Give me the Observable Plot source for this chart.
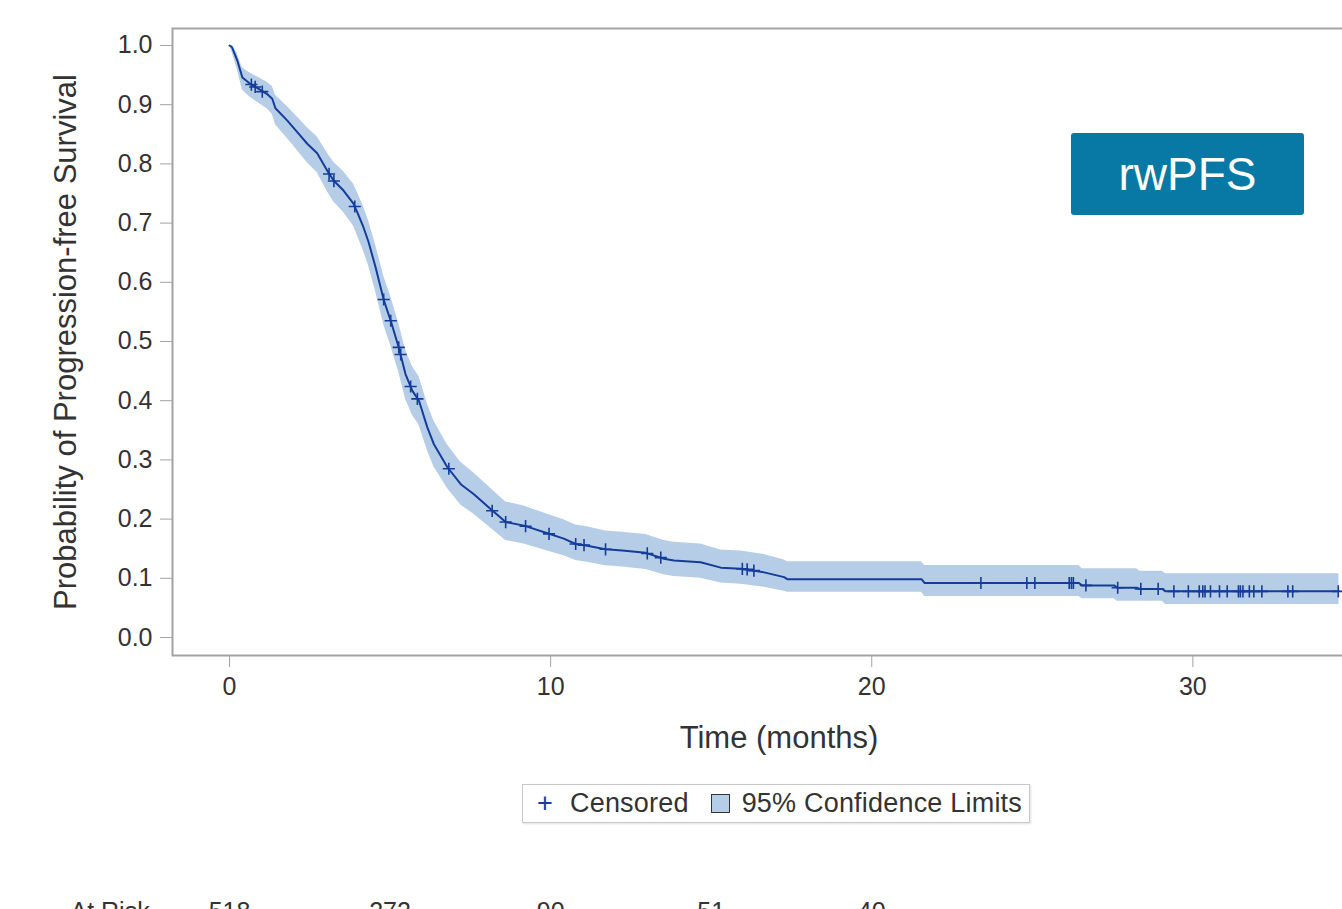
<!DOCTYPE html>
<html>
<head>
<meta charset="utf-8">
<script src="https://cdn.jsdelivr.net/npm/d3@7"></script>
<script src="https://cdn.jsdelivr.net/npm/@observablehq/plot@0.6"></script>
<style>
  html, body { margin: 0; padding: 0; overflow: hidden; background: #fff; }
  #wrap { position: relative; width: 1342px; height: 909px; overflow: hidden; font-family: "Liberation Sans", Arial, sans-serif; }
  #chart svg { max-width: none !important; }
  #legend { position: absolute; left: 522px; top: 784px; width: 506px; height: 37px; border: 1px solid #c9c9c9; box-shadow: 1px 1px 2px rgba(0,0,0,0.12); display: flex; align-items: center; font-size: 27px; color: #333; letter-spacing: 0.2px; }
  #legend .plus { color: #143c99; margin-left: 14px; margin-right: 17px; font-size: 27px; }
  #legend .sq { display: inline-block; width: 17px; height: 17px; background: #b6cde8; border: 1.5px solid #333; margin-left: 22px; margin-right: 12px; }
  #badge { position: absolute; left: 1071px; top: 133px; width: 233px; height: 82px; background: #0878a4; border-radius: 3px; color: #fff; font-size: 46px; display: flex; align-items: center; justify-content: center; }
</style>
</head>
<body>
<div id="wrap">
  <div id="chart"></div>
  <div id="legend"><span class="plus">+</span><span>Censored</span><span class="sq"></span><span>95% Confidence Limits</span></div>
  <div id="badge">rwPFS</div>
</div>
<script>
// Kaplan–Meier estimate (time in months, survival, 95% CI)
const times = [0, 0.08, 0.24, 0.40, 0.65, 0.90, 1.17, 1.33, 1.43, 1.80, 2.15, 2.42, 2.73, 3.04, 3.24, 3.55, 3.86, 3.98, 4.17, 4.33, 4.55, 4.81, 5.02, 5.27, 5.48, 5.69, 5.90, 6.16, 6.36, 6.78, 7.20, 7.61, 8.13, 8.60, 9.17, 9.90, 10.41, 10.78, 11.14, 11.71, 12.23, 12.96, 13.53, 13.84, 14.67, 15.30, 15.92, 16.65, 17.27, 17.37, 21.55, 21.65, 26.45, 26.55, 27.55, 27.65, 28.25, 28.35, 29.05, 29.15, 34.55];
const surv  = [1.000, 0.997, 0.975, 0.946, 0.935, 0.927, 0.918, 0.910, 0.894, 0.873, 0.851, 0.834, 0.818, 0.789, 0.772, 0.755, 0.733, 0.718, 0.693, 0.668, 0.625, 0.569, 0.535, 0.490, 0.445, 0.417, 0.400, 0.355, 0.327, 0.288, 0.259, 0.242, 0.217, 0.195, 0.189, 0.176, 0.167, 0.158, 0.155, 0.149, 0.147, 0.143, 0.133, 0.130, 0.127, 0.118, 0.116, 0.110, 0.102, 0.0985, 0.0985, 0.092, 0.092, 0.088, 0.088, 0.084, 0.084, 0.082, 0.082, 0.078, 0.078];
const lower = [1.000, 0.988, 0.960, 0.925, 0.912, 0.903, 0.893, 0.884, 0.866, 0.843, 0.820, 0.802, 0.785, 0.754, 0.736, 0.718, 0.695, 0.679, 0.653, 0.628, 0.584, 0.527, 0.493, 0.448, 0.403, 0.376, 0.359, 0.316, 0.289, 0.252, 0.224, 0.208, 0.185, 0.164, 0.158, 0.146, 0.138, 0.130, 0.127, 0.121, 0.119, 0.115, 0.106, 0.103, 0.100, 0.092, 0.090, 0.085, 0.078, 0.0765, 0.0765, 0.0693, 0.0693, 0.0653, 0.0653, 0.0613, 0.0613, 0.0613, 0.0613, 0.0557, 0.0557];
const upper = [1.000, 1.000, 0.986, 0.962, 0.953, 0.946, 0.938, 0.931, 0.916, 0.897, 0.877, 0.861, 0.846, 0.819, 0.803, 0.787, 0.766, 0.752, 0.728, 0.704, 0.663, 0.609, 0.576, 0.531, 0.486, 0.458, 0.441, 0.395, 0.366, 0.326, 0.296, 0.278, 0.252, 0.229, 0.222, 0.208, 0.199, 0.190, 0.187, 0.180, 0.178, 0.174, 0.164, 0.161, 0.158, 0.148, 0.146, 0.140, 0.131, 0.128, 0.128, 0.1216, 0.1216, 0.116, 0.116, 0.116, 0.116, 0.112, 0.112, 0.1075, 0.1075];

// Censored observations
const censTimes = [0.68, 0.80, 1.02, 3.10, 3.25, 3.90, 4.80, 5.02, 5.27, 5.33, 5.64, 5.85, 6.83, 8.18, 8.60, 9.22, 9.95, 10.78, 11.04, 11.71, 13.01, 13.43, 15.97, 16.12, 16.33, 23.40, 24.83, 25.08, 26.15, 26.22, 26.28, 26.67, 27.66, 28.38, 28.92, 29.41, 29.86, 30.20, 30.31, 30.38, 30.55, 30.83, 31.07, 31.42, 31.48, 31.56, 31.76, 31.90, 32.15, 32.96, 33.11, 34.53];
const censSurv  = [0.934, 0.930, 0.922, 0.783, 0.771, 0.728, 0.571, 0.535, 0.490, 0.478, 0.424, 0.403, 0.285, 0.214, 0.195, 0.188, 0.175, 0.158, 0.156, 0.149, 0.142, 0.135, 0.116, 0.115, 0.113, 0.092, 0.092, 0.092, 0.092, 0.092, 0.092, 0.088, 0.084, 0.082, 0.082, 0.078, 0.078, 0.078, 0.078, 0.078, 0.078, 0.078, 0.078, 0.078, 0.078, 0.078, 0.078, 0.078, 0.078, 0.078, 0.078, 0.078];

// Axis ticks
const xTicks = [0, 10, 20, 30];
const yTicks = [0, 0.1, 0.2, 0.3, 0.4, 0.5, 0.6, 0.7, 0.8, 0.9, 1.0];

// Number at risk
const riskTimes = [0, 5, 10, 15, 20];
const riskCounts = ["518", "272", "90", "51", "40"];

const lineColor = "#143c99";
const bandColor = "#b6cde8";
const axisGray = "#a3a3a3";
const textColor = "#333333";

const km = times.map((t, i) => ({t, s: surv[i], lo: lower[i], hi: upper[i]}));
const cens = censTimes.map((t, i) => ({t, s: censSurv[i]}));
const risk = riskTimes.map((t, i) => ({t, n: riskCounts[i]}));

const chart = Plot.plot({
  width: 1400,
  height: 930,
  marginLeft: 172,
  marginRight: 15,
  marginTop: 28,
  marginBottom: 275,
  x: {domain: [-1.776, 36.0]},
  y: {domain: [-0.0304, 1.0287]},
  style: {fontFamily: "'Liberation Sans', Arial, sans-serif", fontSize: "25px", color: textColor, background: "white", maxWidth: "none"},
  marks: [
    Plot.areaY(km, {x: "t", y1: "lo", y2: "hi", fill: bandColor}),
    Plot.line(km, {x: "t", y: "s", stroke: lineColor, strokeWidth: 2}),
    Plot.dot(cens, {x: "t", y: "s", symbol: "plus", r: 4, stroke: lineColor, strokeWidth: 1.6}),
    Plot.frame({stroke: axisGray, strokeWidth: 2}),
    Plot.axisY({ticks: yTicks, tickFormat: d3.format(".1f"), tickSize: 12, tickPadding: 8, label: null, stroke: axisGray, fill: textColor}),
    Plot.axisX({ticks: xTicks, tickFormat: d3.format("d"), tickSize: 12, tickPadding: 10, label: null, stroke: axisGray, fill: textColor}),
    Plot.text(["Probability of Progression-free Survival"], {frameAnchor: "left", textAnchor: "middle", dx: -106, rotate: -90, fontSize: 31, fill: textColor}),
    Plot.text(["Time (months)"], {frameAnchor: "bottom", textAnchor: "middle", dy: 92, fontSize: 31, fill: textColor}),
    Plot.text(["At Risk"], {frameAnchor: "bottom-left", dx: -102, dy: 264, textAnchor: "start", fontSize: 25, fill: textColor}),
    Plot.text(risk, {x: "t", text: "n", frameAnchor: "bottom", textAnchor: "middle", dy: 264, fontSize: 25, fill: textColor})
  ]
});
document.getElementById("chart").appendChild(chart);
</script>
</body>
</html>
